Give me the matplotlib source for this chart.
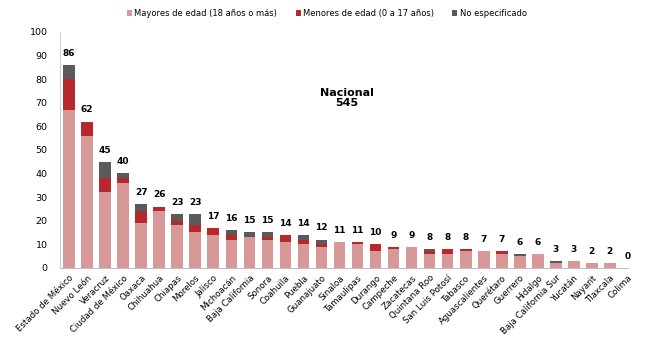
import numpy as np
import matplotlib.pyplot as plt

plt.rcParams['font.family'] = ['DejaVu Sans']

estados = ['Estado de México', 'Nuevo León', 'Veracruz', 'Ciudad de México', 'Oaxaca',
           'Chihuahua', 'Chiapas', 'Morelos', 'Jalisco', 'Michoacán', 'Baja California',
           'Sonora', 'Coahuila', 'Puebla', 'Guanajuato', 'Sinaloa', 'Tamaulipas',
           'Durango', 'Campeche', 'Zacatecas', 'Quintana Roo', 'San Luis Potosí',
           'Tabasco', 'Aguascalientes', 'Querétaro', 'Guerrero', 'Hidalgo',
           'Baja California Sur', 'Yucatán', 'Nayarit', 'Tlaxcala', 'Colima']
mayores = [67, 56, 32, 36, 19, 24, 18, 15, 14, 12, 13, 12, 11, 10, 9, 11, 10,
           7, 8, 9, 6, 6, 7, 7, 6, 5, 6, 2, 3, 2, 2, 0]
menores = [13, 6, 6, 2, 5, 2, 2, 3, 3, 2, 0, 1, 3, 2, 1, 0, 1,
           3, 1, 0, 1, 2, 1, 0, 1, 0, 0, 0, 0, 0, 0, 0]
no_esp = [6, 0, 7, 2, 3, 0, 3, 5, 0, 2, 2, 2, 0, 2, 2, 0, 0,
          0, 0, 0, 1, 0, 0, 0, 0, 1, 0, 1, 0, 0, 0, 0]

mayores = np.array(mayores)
menores = np.array(menores)
no_esp = np.array(no_esp)
total = mayores + menores + no_esp
x = np.arange(len(estados))

fig = plt.figure(figsize=(6.54, 3.43), dpi=100)
ax = fig.add_axes([0.092, 0.219, 0.868, 0.688])

w = 0.65
ax.bar(x, mayores, w, color='#D99898', label='Mayores de edad (18 años o más)')
ax.bar(x, menores, w, bottom=mayores, color='#B5282C', label='Menores de edad (0 a 17 años)')
ax.bar(x, no_esp, w, bottom=mayores + menores, color='#5A5A5A', label='No especificado')

for i, t in enumerate(total):
    ax.text(x[i], t + 3, str(t), ha='center', va='bottom', fontsize=6.5, fontweight='bold')

ax.text(15.4, 72, 'Nacional\n545', ha='center', va='center', fontsize=8,
        fontweight='bold', linespacing=1.1)

ax.set_ylim(0, 100)
ax.set_xlim(-0.5, 30.45)
ax.set_yticks(range(0, 101, 10))
ax.set_xticks(x)
ax.set_xticklabels(estados, rotation=45, ha='right', rotation_mode='anchor', fontsize=6.2)
ax.tick_params(axis='y', labelsize=6.8, length=0, pad=9)
ax.tick_params(axis='x', length=0, pad=4)
for s in ['top', 'right']:
    ax.spines[s].set_visible(False)
ax.spines['left'].set_color('#D0D0D0')
ax.spines['bottom'].set_color('#C0C0C0')

ax.legend(loc='center', bbox_to_anchor=(0.47, 1.078), ncol=3, frameon=False,
          fontsize=6, handlelength=0.6, handleheight=0.6, handletextpad=0.3,
          columnspacing=2.2)

fig.savefig('out.png', dpi=100)
